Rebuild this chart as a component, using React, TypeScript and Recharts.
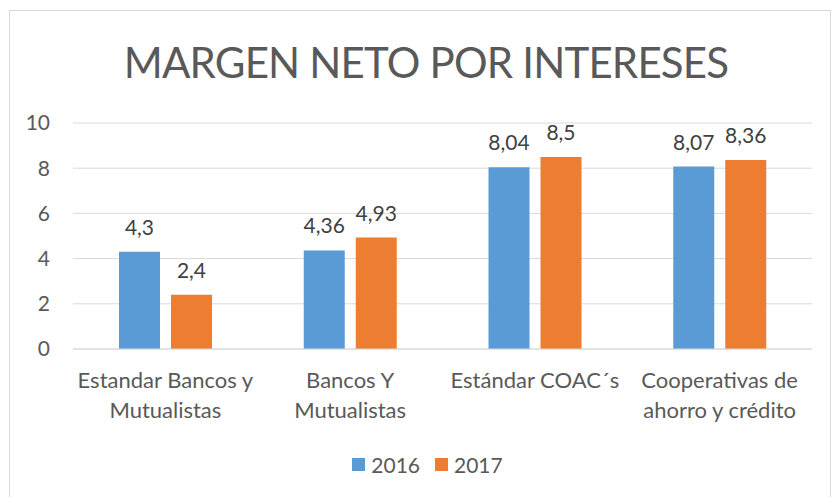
import React from "react";
import { BarChart, Bar, XAxis, YAxis, CartesianGrid, LabelList, Legend } from "recharts";

const categories = [
  "Estandar Bancos y Mutualistas",
  "Bancos Y Mutualistas",
  "Estándar COAC´s",
  "Cooperativas de ahorro y crédito",
];
const categoryLines = [
  ["Estandar Bancos y", "Mutualistas"],
  ["Bancos Y", "Mutualistas"],
  ["Estándar COAC´s"],
  ["Cooperativas de", "ahorro y crédito"],
];
const values2016 = [4.3, 4.36, 8.04, 8.07];
const values2017 = [2.4, 4.93, 8.5, 8.36];
const yTicks = [0, 2, 4, 6, 8, 10];
const seriesNames = ["2016", "2017"];
const title = "MARGEN NETO POR INTERESES";

const data = categories.map((c, i) => ({
  name: c,
  s2016: values2016[i],
  s2017: values2017[i],
}));

const FONT = "Lato, 'Open Sans', sans-serif";
const TEXT = "#595959";
const COLORS = ["#5B9BD5", "#ED7D31"];

const fmt = (v: any) => String(v).replace(".", ",");

const CategoryTick = (props: any) => {
  const { x, y, payload } = props;
  const idx = categories.indexOf(payload.value);
  const lines = categoryLines[idx] || [payload.value];
  return (
    <text x={x} y={y} textAnchor="middle" fill={TEXT} fontFamily={FONT} fontSize={22}>
      {lines.map((l, i) => (
        <tspan key={i} x={x} y={y + 31 + i * 30}>
          {l}
        </tspan>
      ))}
    </text>
  );
};

const LegendContent = (props: any) => {
  const payload = props.payload || [];
  return (
    <div
      style={{
        display: "flex",
        justifyContent: "center",
        paddingLeft: 20,
        fontFamily: FONT,
        fontSize: 21,
        color: TEXT,
        lineHeight: "25px",
        marginTop: 1,
      }}
    >
      {payload.map((p: any, i: number) => (
        <div key={i} style={{ display: "flex", alignItems: "center", marginLeft: i === 0 ? 0 : 15 }}>
          <div style={{ width: 13, height: 13, background: p.color, marginRight: 6 }} />
          <span>{p.value}</span>
        </div>
      ))}
    </div>
  );
};

export default function App() {
  return (
    <div style={{ position: "absolute", left: 0, top: 0, width: 832, height: 497, background: "#fff", overflow: "hidden" }}>
      <div
        style={{
          position: "absolute",
          left: 9,
          top: 10,
          width: 822,
          height: 500,
          border: "1px solid #D9D9D9",
          boxSizing: "border-box",
        }}
      />
      <div
        style={{
          position: "absolute",
          left: 0,
          width: 852,
          top: 37,
          textAlign: "center",
          fontFamily: FONT,
          fontSize: 42,
          letterSpacing: -0.8,
          color: TEXT,
          lineHeight: "50px",
          whiteSpace: "nowrap",
        }}
      >
        {title}
      </div>
      <div style={{ position: "absolute", left: 0, top: 0 }}>
        <BarChart
          width={832}
          height={497}
          data={data}
          margin={{ top: 123, right: 20, left: 23, bottom: 16 }}
          barGap={11}
          barSize={41}
        >
          <CartesianGrid vertical={false} stroke="#D9D9D9" />
          <XAxis
            dataKey="name"
            axisLine={{ stroke: "#D9D9D9" }}
            tickLine={false}
            tick={<CategoryTick />}
            height={102}
            interval={0}
          />
          <YAxis
            width={50}
            domain={[0, 10]}
            ticks={yTicks}
            axisLine={false}
            tickLine={false}
            tickSize={0}
            tickMargin={23}
            tick={{ fill: TEXT, fontFamily: FONT, fontSize: 21 }}
          />
          <Legend verticalAlign="bottom" height={30} content={<LegendContent />} />
          <Bar dataKey="s2016" name={seriesNames[0]} fill={COLORS[0]} isAnimationActive={false}>
            <LabelList dataKey="s2016" position="top" offset={17} formatter={fmt} fill="#404040" fontFamily={FONT} fontSize={21} />
          </Bar>
          <Bar dataKey="s2017" name={seriesNames[1]} fill={COLORS[1]} isAnimationActive={false}>
            <LabelList dataKey="s2017" position="top" offset={17} formatter={fmt} fill="#404040" fontFamily={FONT} fontSize={21} />
          </Bar>
        </BarChart>
      </div>
    </div>
  );
}
